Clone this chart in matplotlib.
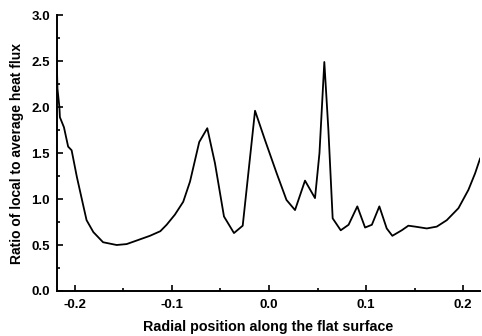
import matplotlib.pyplot as plt
from matplotlib.ticker import MultipleLocator

plt.rcParams['font.family'] = ['Liberation Sans', 'DejaVu Sans']
plt.rcParams['font.weight'] = 'bold'

# radial position and local/average heat flux ratio
radial_pos = [-0.2186, -0.2180, -0.2160, -0.2155, -0.2113, -0.2070, -0.2034, -0.1980,
              -0.1910, -0.1880, -0.1810, -0.1710, -0.1570, -0.1467, -0.1360, -0.1227,
              -0.1120, -0.1055, -0.0970, -0.0884, -0.0814, -0.0719, -0.0636, -0.0557,
              -0.0464, -0.0361, -0.0271, -0.0144, -0.0041, 0.0079, 0.0180, 0.0268,
              0.0371, 0.0474, 0.0520, 0.0570, 0.0612, 0.0656, 0.0739, 0.0820, 0.0910,
              0.0990, 0.1060, 0.1137, 0.1213, 0.1271, 0.1368, 0.1436, 0.1505, 0.1626,
              0.1729, 0.1832, 0.1952, 0.2055, 0.2124, 0.2175]
flux_ratio = [2.45, 2.20, 2.00, 1.89, 1.78, 1.57, 1.53, 1.24,
              0.91, 0.77, 0.64, 0.53, 0.50, 0.51, 0.55, 0.60,
              0.65, 0.72, 0.83, 0.97, 1.19, 1.62, 1.77, 1.39,
              0.81, 0.63, 0.71, 1.96, 1.64, 1.28, 0.99, 0.88,
              1.20, 1.01, 1.50, 2.49, 1.75, 0.79, 0.66, 0.72, 0.92,
              0.69, 0.72, 0.92, 0.68, 0.60, 0.66, 0.71, 0.70, 0.68,
              0.70, 0.77, 0.90, 1.10, 1.28, 1.44]

x_ticks = [-0.2, -0.1, 0.0, 0.1, 0.2]
y_ticks = [0.0, 0.5, 1.0, 1.5, 2.0, 2.5, 3.0]

fig = plt.figure(figsize=(4.82, 3.36), dpi=100)
ax = fig.add_axes([0.118, 0.134, 0.878, 0.821])
ax.plot(radial_pos, flux_ratio, color='black', lw=1.3)

ax.set_xlim(-0.2186, 0.2175)
ax.set_ylim(0, 3.0)
ax.set_xticks(x_ticks)
ax.set_xticklabels(['-0.2', '-0.1', '0.0', '0.1', '0.2'])
ax.set_yticks(y_ticks)
ax.set_yticklabels([f'{v:.1f}' for v in y_ticks])
ax.xaxis.set_minor_locator(MultipleLocator(0.05))
ax.yaxis.set_minor_locator(MultipleLocator(0.25))
ax.tick_params(which='both', direction='in', labelsize=9.5, width=1.2)
ax.tick_params(which='major', length=4)
ax.tick_params(which='minor', length=2.5)
ax.tick_params(axis='x', pad=6)
ax.tick_params(axis='y', pad=5)

for s in ['top', 'right']:
    ax.spines[s].set_visible(False)
for s in ['left', 'bottom']:
    ax.spines[s].set_linewidth(1.4)

ax.set_xlabel('Radial position along the flat surface', fontsize=10.3, fontweight='bold', labelpad=6)
ax.set_ylabel('Ratio of local to average heat flux', fontsize=10, fontweight='bold', labelpad=5)

fig.savefig('out.png', dpi=100)
